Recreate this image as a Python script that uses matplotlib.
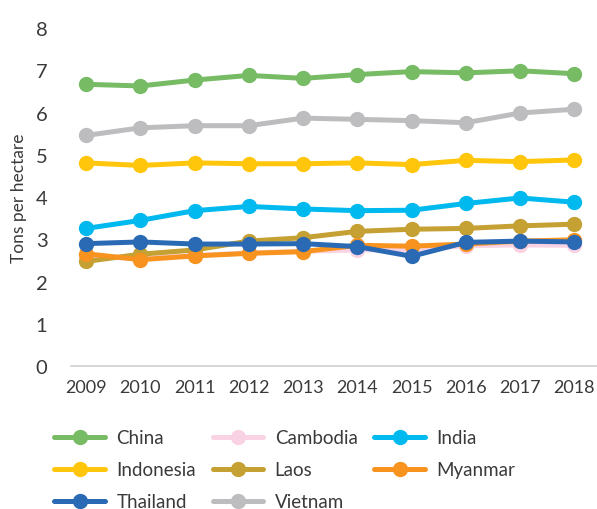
import matplotlib.pyplot as plt

years = [2009, 2010, 2011, 2012, 2013, 2014, 2015, 2016, 2017, 2018]

china = [6.67, 6.63, 6.77, 6.88, 6.81, 6.90, 6.97, 6.94, 6.99, 6.92]
cambodia = [2.60, 2.55, 2.62, 2.68, 2.72, 2.75, 2.76, 2.85, 2.87, 2.86]
india = [3.26, 3.45, 3.68, 3.78, 3.72, 3.68, 3.69, 3.85, 3.98, 3.88]
indonesia = [4.81, 4.75, 4.81, 4.79, 4.79, 4.81, 4.77, 4.87, 4.84, 4.88]
laos = [2.48, 2.65, 2.75, 2.96, 3.04, 3.19, 3.24, 3.26, 3.32, 3.36]
myanmar = [2.66, 2.52, 2.61, 2.67, 2.71, 2.86, 2.84, 2.89, 2.96, 2.99]
thailand = [2.90, 2.94, 2.89, 2.89, 2.90, 2.83, 2.60, 2.93, 2.96, 2.94]
vietnam = [5.46, 5.64, 5.69, 5.69, 5.87, 5.84, 5.81, 5.76, 5.99, 6.08]

series = [
    ('China', china, '#77bb65'),
    ('Cambodia', cambodia, '#f9d3e3'),
    ('India', india, '#00b9ef'),
    ('Indonesia', indonesia, '#ffc60c'),
    ('Laos', laos, '#c5a033'),
    ('Myanmar', myanmar, '#f7931e'),
    ('Thailand', thailand, '#2a6ab4'),
    ('Vietnam', vietnam, '#bdbdc0'),
]

plt.rcParams['font.family'] = ['Lato', 'DejaVu Sans']
text_col = '#3a3a3a'

fig = plt.figure(figsize=(5.97, 5.10), dpi=100)
ax = fig.add_axes([0.119, 0.280, 0.881, 0.663])

x = range(len(years))
lines = {}
for name, vals, col in series:
    ln, = ax.plot(x, vals, color=col, lw=3.6, marker='o', markersize=10,
                  solid_capstyle='round', label=name)
    lines[name] = ln

ax.set_ylim(0, 8)
ax.set_xlim(-0.28, 9.42)
ax.set_xticks(list(x))
ax.set_xticklabels([str(y) for y in years])
ax.set_yticks(range(0, 9))
for s in ['top', 'right', 'left']:
    ax.spines[s].set_visible(False)
ax.spines['bottom'].set_color('#d0d0d0')
ax.spines['bottom'].set_linewidth(1.2)
ax.tick_params(axis='x', length=0, labelsize=13, labelcolor=text_col, pad=9)
ax.tick_params(axis='y', length=0, labelsize=14.5, labelcolor=text_col, pad=17)
ax.set_ylabel('Tons per hectare', fontsize=12.5, color=text_col, labelpad=6)

# legend is filled column by column, so order it to read row by row
order = ['China', 'Indonesia', 'Thailand', 'Cambodia', 'Laos', 'Vietnam',
         'India', 'Myanmar']
fig.legend([lines[n] for n in order], order, loc='lower left',
           bbox_to_anchor=(0.063, -0.036), ncol=3,
           frameon=False, fontsize=13.5, handlelength=2.7, labelspacing=0.8,
           columnspacing=0.9, handletextpad=0.6, labelcolor=text_col)

fig.savefig('out.png', dpi=100)
